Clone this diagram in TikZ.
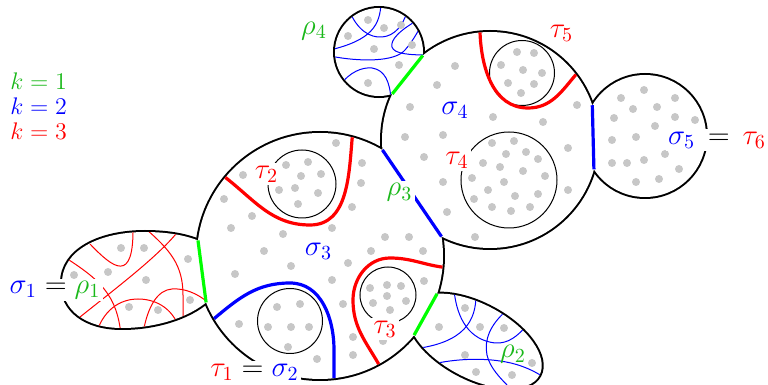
\documentclass[tikz,border=0pt]{standalone}
\usetikzlibrary{intersections,calc}
\definecolor{dotgray}{gray}{0.78}
\definecolor{txtgreen}{rgb}{0.1,0.72,0.1}
\begin{document}
\begin{tikzpicture}[x=0.5pt,y=0.5pt,
  every node/.style={font=\Large, inner sep=1pt},
  outline/.style={line width=2pt},
  thinarc/.style={line width=0.5pt},
  thickarc/.style={line width=1.6pt},
  hole/.style={line width=0.5pt},
  wlab/.style={fill=white, inner sep=1.2pt},
  klab/.style={anchor=north west, inner sep=0pt, align=left, font=\fontsize{12}{12.5}\selectfont}]
\useasboundingbox (0,0) rectangle (768,-385);
\coordinate (c3) at (320,-256);
\coordinate (c4) at (490,-140);
\coordinate (c5) at (645,-136);
\coordinate (c6) at (379,-52);
\def\PathA{(62,-283) .. controls (62,-250) and (100,-232) .. (145,-232) .. controls (175,-232) and (200,-238) .. (215,-250) .. controls (225,-260) and (225,-285) .. (212,-297) .. controls (195,-315) and (160,-328) .. (122,-328) .. controls (85,-328) and (62,-310) .. cycle}
\def\PathB{(475,-341) ellipse [x radius=73, y radius=37, rotate=-28]}
\def\PathC{(c3) circle [radius=123]}
\def\PathD{(c4) circle [radius=108]}
\def\PathE{(c5) circle [radius=61]}
\def\PathF{(c6) circle [radius=44]}
\path[name path=S1] \PathA;
\path[name path=R2] \PathB;
\path[name path=S3] \PathC;
\path[name path=S4] \PathD;
\path[name path=S5] \PathE;
\path[name path=R4] \PathF;
% union outline
\draw[outline] \PathA; \draw[outline] \PathB; \draw[outline] \PathC;
\draw[outline] \PathD; \draw[outline] \PathE; \draw[outline] \PathF;
\fill[white] \PathA; \fill[white] \PathB; \fill[white] \PathC;
\fill[white] \PathD; \fill[white] \PathE; \fill[white] \PathF;
% arcs in sigma1
\begin{scope}
\clip \PathA;
\draw[red, thinarc] (90,-244) .. controls (113,-268) and (134,-285) .. (133,-226);
\draw[red, thinarc] (146,-229) .. controls (170,-250) and (183,-265) .. (183,-295) -- (183,-335);
\draw[red, thinarc] (180,-229) .. controls (160,-255) and (120,-285) .. (75,-321);
\draw[red, thinarc] (66,-258) .. controls (100,-280) and (117,-295) .. (121,-335);
\draw[red, thinarc] (96,-334) .. controls (105,-305) and (125,-299) .. (138,-299) .. controls (152,-299) and (172,-305) .. (180,-330);
\draw[red, thinarc] (143,-333) .. controls (148,-305) and (158,-290) .. (172,-289) .. controls (185,-288) and (197,-294) .. (205,-300);
\end{scope}
% arcs in rho2
\begin{scope}
\clip \PathB;
\draw[blue, thinarc] (454,-290) .. controls (457,-320) and (470,-340) .. (495,-343) .. controls (508,-344) and (518,-336) .. (527,-325);
\draw[blue, thinarc] (476,-295) .. controls (476,-320) and (465,-343) .. (413,-349);
\draw[blue, thinarc] (506,-311) .. controls (490,-325) and (484,-340) .. (487,-355) .. controls (490,-368) and (500,-378) .. (512,-390);
\draw[blue, thinarc] (433,-364) .. controls (455,-359) and (480,-358) .. (500,-361) .. controls (515,-363) and (530,-368) .. (545,-378);
\end{scope}
% arcs in rho4
\begin{scope}
\clip \PathF;
\draw[blue, thinarc] (381,-3) .. controls (380,-25) and (372,-40) .. (330,-50);
\draw[blue, thinarc] (349,-10) .. controls (357,-30) and (370,-38) .. (382,-37) .. controls (395,-36) and (403,-25) .. (407,-12);
\draw[blue, thinarc] (418,-20) .. controls (400,-30) and (390,-40) .. (392,-47) .. controls (394,-54) and (410,-55) .. (428,-55);
\draw[blue, thinarc] (330,-56) .. controls (360,-62) and (395,-62) .. (405,-50) .. controls (412,-42) and (416,-35) .. (422,-24);
\draw[blue, thinarc] (340,-85) .. controls (350,-72) and (362,-67) .. (372,-68) .. controls (385,-70) and (390,-82) .. (391,-100);
\end{scope}
% dots
\foreach \p in {(621,-98),(644,-90),(675,-98),(633,-109),(657,-107),(614,-118),(675,-117),(695,-120),(655,-126),(612,-140),(636,-137),(612,-163),(627,-163),(644,-160),(665,-154),(679,-169),(636,-182),(659,-179),
(455,-66),(437,-85),(410,-107),(405,-137),(443,-135),(424,-157),(443,-182),(447,-212),(475,-237),(493,-117),(543,-122),(577,-105),(568,-148),(568,-190),
(517,-52),(534,-53),(501,-65),(523,-70),(542,-73),(508,-83),(534,-84),(521,-93),
(492,-143),(514,-141),(506,-154),(526,-152),(538,-159),(483,-163),(500,-167),(523,-171),(545,-176),(472,-178),(504,-182),(488,-190),(515,-196),(538,-194),(474,-199),(492,-207),(511,-211),(530,-207),
(336,-143),(362,-163),(361,-183),(352,-207),(243,-175),(224,-199),(252,-216),(231,-228),(283,-234),(332,-228),(385,-237),(409,-237),(264,-251),(371,-251),(423,-251),(291,-266),(348,-263),(235,-274),(332,-280),(343,-304),(239,-324),(353,-337),(353,-355),(317,-359),(424,-281),(383,-341),
(286,-165),(308,-162),(301,-176),(321,-174),(279,-190),(295,-188),(318,-193),(298,-204),
(277,-307),(300,-304),(268,-327),(291,-327),(309,-327),(288,-347),
(370,-288),(387,-285),(401,-286),(387,-296),(373,-303),(406,-301),(390,-310),
(121,-248),(144,-248),(188,-259),(74,-275),(108,-272),(146,-280),(190,-300),(129,-307),(158,-310),
(465,-308),(439,-327),(480,-327),(504,-328),(465,-355),(532,-363),(476,-372),(512,-375),
(368,-20),(384,-28),(401,-25),(348,-36),(374,-49),(412,-45),(399,-65),(368,-83)}
  \fill[dotgray] \p circle [radius=4];
% hole circles
\draw[hole] (302,-184) circle [radius=34];
\draw[hole] (290,-321) circle [radius=32.5];
\draw[hole] (388,-295) circle [radius=28];
\draw[hole] (522,-73) circle [radius=32.5];
\draw[hole] (509,-180) circle [radius=48];
% thick arcs
\draw[red, thickarc] ($(c3)+(140.3:123)$) to[out=-38, in=180] (310,-225) to[out=0, in=-95] ($(c3)+(74.8:123)$);
\draw[blue, thickarc] ($(c3)+(210.6:123)$) to[out=40, in=180] (290,-283) to[out=0, in=90] (334,-350) -- ($(c3)+(276.5:123)$);
\draw[red, thickarc] ($(c3)+(-5.2:123)$) to[out=172, in=0] (390,-258) to[out=180, in=90] (353,-300) to[out=-90, in=120] ($(c3)+(-61.5:123)$);
\draw[red, thickarc] ($(c4)+(95.3:108)$) to[out=-88, in=180] (528,-108) to[out=0, in=-130] ($(c4)+(37.3:108)$);
% chords
\path[name intersections={of=S1 and S3, by={a1,a2}}];
\path[name intersections={of=S3 and R2, by={b1,b2}}];
\path[name intersections={of=S3 and S4, by={d1,d2}}];
\path[name intersections={of=S4 and R4, by={e1,e2}}];
\path[name intersections={of=S4 and S5, by={f1,f2}}];
\draw[green, thickarc] (a1) -- (a2);
\draw[green, thickarc] (b1) -- (b2);
\draw[blue, thickarc] (d1) -- (d2);
\draw[green, thickarc] (e1) -- (e2);
\draw[blue, thickarc] (f1) -- (f2);
% labels
\node[klab] (kk) at (10,-72) {\textcolor{txtgreen}{$k=1$}\\\textcolor{blue}{$k=2$}\\\textcolor{red}{$k=3$}};
\node[wlab] (l1) at (55,-290) {${\color{blue}\sigma_1}={\color{txtgreen}\rho_1}$};
\node[wlab] (l2) at (254.5,-372) {${\color{red}\tau_1}={\color{blue}\sigma_2}$};
\node[wlab] (l5) at (717,-140) {${\color{blue}\sigma_5}\,=\,{\color{red}\tau_6}$};
\node[wlab, text=txtgreen] (r3) at (399.5,-192.5) {$\rho_3$};
\node[text=txtgreen] (r2) at (513,-354.5) {$\rho_2$};
\node[text=txtgreen] (r4) at (314,-31) {$\rho_4$};
\node[text=blue] (s3) at (318.5,-251.5) {$\sigma_3$};
\node[text=blue] (s4) at (455,-110) {$\sigma_4$};
\node[wlab, text=red] (t2) at (266.5,-174) {$\tau_2$};
\node[wlab, text=red] (t3) at (385,-329) {$\tau_3$};
\node[wlab, text=red] (t4) at (457,-160) {$\tau_4$};
\node[text=red] (t5) at (561.5,-33.5) {$\tau_5$};
\end{tikzpicture}
\end{document}
